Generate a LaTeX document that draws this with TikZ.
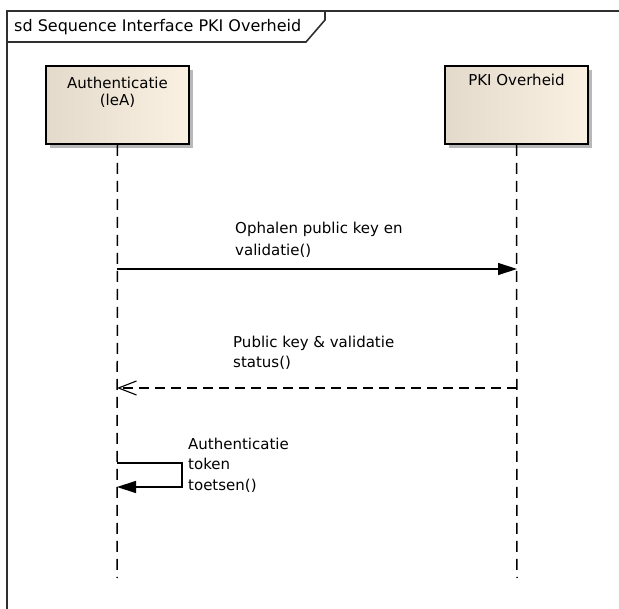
\documentclass[tikz,border=0pt]{standalone}
\usepackage{fontspec}
\setmainfont{DejaVu Sans}
\usetikzlibrary{arrows.meta}
\definecolor{boxleft}{HTML}{E4DACB}
\definecolor{boxright}{HTML}{FBF1E3}
\definecolor{shadowgray}{HTML}{B8B8B8}
\definecolor{framegray}{HTML}{303030}
\tikzset{
  actorbox/.style={draw=black, line width=1.6pt, left color=boxleft, right color=boxright,
    minimum width=143pt, minimum height=78pt, inner sep=0pt},
  actorshadow/.style={fill=shadowgray, draw=none, minimum width=143pt, minimum height=78pt, inner sep=0pt},
  lbl/.style={font=\fontsize{15}{18}\selectfont, inner sep=0pt, anchor=base west},
  actorlbl/.style={font=\fontsize{15}{18}\selectfont, inner sep=0pt, anchor=base, align=center},
  lifeline/.style={line width=1.5pt, dash pattern=on 11pt off 7pt},
  callmsg/.style={line width=1.3pt, -{Triangle[length=19pt, width=12pt]}},
  replymsg/.style={line width=1.3pt, dash pattern=on 10pt off 6pt, -{Straight Barb[length=18pt, width=14pt, line width=1.1pt]}},
  framestyle/.style={draw=framegray, line width=1.6pt}
}
\begin{document}
\begin{tikzpicture}[x=1pt, y=-1pt]
\useasboundingbox (0,0) rectangle (619,609);
\fill[white] (0,0) rectangle (619,609);
\clip (0,0) rectangle (619,609);
% frame
\draw[framestyle] (7,630) -- (7,11) -- (640,11);
\draw[framestyle] (7,42) -- (306,42) -- (325,20) -- (325,11);
\node[lbl, font=\fontsize{16}{18}\selectfont] (title) at (14,32) {sd Sequence Interface PKI Overheid};
% actors
\node[actorshadow] (authshadow) at (121.5,109) {};
\node[actorbox] (authbox) at (117.5,105) {};
\node[actorlbl] (authlbl) at (117.5,106) {Authenticatie\\[-0.5pt](leA)};
\node[actorshadow] (pkishadow) at (520.5,109) {};
\node[actorbox] (pkibox) at (516.5,105) {};
\node[actorlbl] (pkilbl) at (516.5,86) {PKI Overheid};
% lifelines
\coordinate (authend) at (117,578);
\coordinate (pkiend) at (517,578);
\draw[lifeline] (authbox.south) -- (authend);
\draw[lifeline] (pkibox.south) -- (pkiend);
% message 1
\coordinate (m1s) at (117,269);
\coordinate (m1e) at (517,269);
\draw[callmsg] (m1s) -- (m1e);
\node[lbl] (m1a) at (235,234) {Ophalen public key en};
\node[lbl] (m1b) at (235,256) {validatie()};
% message 2
\coordinate (m2s) at (517,388);
\coordinate (m2e) at (117,388);
\draw[replymsg] (m2s) -- (m2e);
\node[lbl] (m2a) at (233,348) {Public key \& validatie};
\node[lbl] (m2b) at (233,368) {status()};
% self message
\coordinate (s1) at (117,463);
\coordinate (s2) at (182,463);
\coordinate (s3) at (182,487);
\coordinate (s4) at (117,487);
\draw[line width=1.3pt, -{Triangle[length=19pt, width=12pt]}] (s1) -- (s2) -- (s3) -- (s4);
\node[lbl] (sa) at (188,450) {Authenticatie};
\node[lbl] (sb) at (188,470) {token};
\node[lbl] (sc) at (188,491) {toetsen()};
\end{tikzpicture}
\end{document}
